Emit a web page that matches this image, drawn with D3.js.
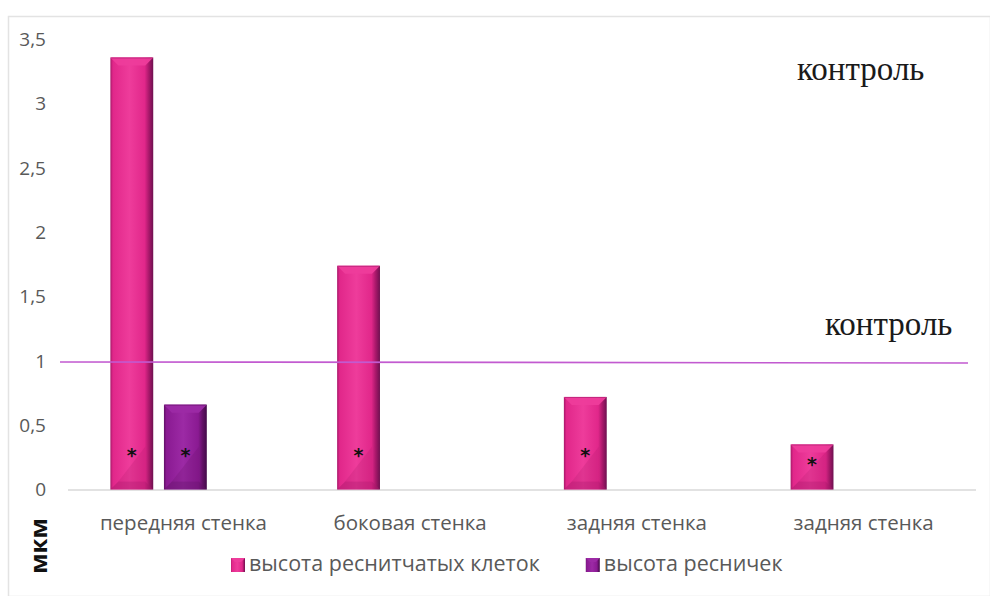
<!DOCTYPE html>
<html>
<head>
<meta charset="utf-8">
<script src="https://cdn.jsdelivr.net/npm/d3@7"></script>
<style>
  html, body { margin: 0; padding: 0; background: #fff; }
  svg { display: block; }
</style>
</head>
<body>
<svg id="chart" width="990" height="596"></svg>
<script>
// Categories and series
const categories = ["передняя стенка", "боковая стенка", "задняя стенка", "задняя стенка "];
const seriesNames = ["высота реснитчатых клеток", "высота ресничек"];
const cellHeight = [3.36, 1.74, 0.72, 0.35];      // высота реснитчатых клеток
const ciliaHeight = [0.66, null, null, null];     // высота ресничек
const significant = [[true, true], [true, false], [true, false], [true, false]];
const yTicks = [0, 0.5, 1, 1.5, 2, 2.5, 3, 3.5];
const controlLevel = 1;
const controlLabel = "контроль";
const unitLabel = "мкм";

const colors = [
  { base: "#e1278a", light: "#ee3c9b", dark: "#a8186a", deep: "#6e1050" },
  { base: "#8a1a92", light: "#9c2aa5", dark: "#621166", deep: "#420a48" }
];

const svg = d3.select("#chart");
const W = 990, H = 596;
const sans = "Open Sans, sans-serif";

// outer frame
svg.append("rect").attr("x", 8.5).attr("y", 16.5).attr("width", W - 8).attr("height", H - 16)
  .attr("fill", "#fff").attr("stroke", "#e3e3e3").attr("stroke-width", 1.5);

const y = d3.scaleLinear().domain([0, 3.5]).range([489.5, 39.5]);
const x = d3.scaleBand().domain(categories).range([72, 979]);
// three slots per category; the series occupy the first two
const slot = d3.scaleBand().domain([0, 1, 2]).range([0, 150]).paddingInner(0.2);
const groupInset = (x.bandwidth() - 150) / 2;

const defs = svg.append("defs");
colors.forEach((c, i) => {
  const g = defs.append("linearGradient").attr("id", "bar" + i).attr("x1", 0).attr("x2", 1).attr("y1", 0).attr("y2", 0);
  g.append("stop").attr("offset", 0).attr("stop-color", c.dark);
  g.append("stop").attr("offset", 0.06).attr("stop-color", c.base);
  g.append("stop").attr("offset", 0.45).attr("stop-color", c.light);
  g.append("stop").attr("offset", 0.8).attr("stop-color", c.base);
  g.append("stop").attr("offset", 0.9).attr("stop-color", c.dark);
  g.append("stop").attr("offset", 1).attr("stop-color", c.deep);
});

// y tick labels
svg.append("g").selectAll("text").data(yTicks).join("text")
  .attr("x", 46).attr("y", d => y(d)).attr("dy", "0.35em")
  .attr("text-anchor", "end")
  .attr("font-family", sans).attr("font-size", 19).attr("fill", "#595959")
  .text(d => d3.format(".1~f")(d).replace(".", ","));

// baseline
svg.append("line").attr("x1", 68).attr("x2", 976).attr("y1", y(0) + 0.5).attr("y2", y(0) + 0.5)
  .attr("stroke", "#d9d9d9").attr("stroke-width", 1.5);

// bars
const bars = [];
categories.forEach((c, ci) => {
  [cellHeight[ci], ciliaHeight[ci]].forEach((v, si) => {
    if (v == null) return;
    bars.push({ c, ci, si, v, sig: significant[ci][si] });
  });
});

const bw = slot.bandwidth();
const bevel = 8;
const gBars = svg.append("g");
bars.forEach(b => {
  const x0 = x(b.c) + groupInset + slot(b.si);
  const y0 = y(b.v), y1 = y(0);
  const c = colors[b.si];
  const g = gBars.append("g");
  g.append("rect").attr("x", x0).attr("y", y0).attr("width", bw).attr("height", y1 - y0)
    .attr("fill", `url(#bar${b.si})`);
  // top bevel
  g.append("path").attr("d", `M${x0},${y0}L${x0 + bw},${y0}L${x0 + bw - bevel},${y0 + bevel}L${x0 + bevel},${y0 + bevel}Z`)
    .attr("fill", c.light).attr("opacity", 0.95);
  g.append("line").attr("x1", x0 + 1).attr("x2", x0 + bw - 1).attr("y1", y0 + 0.5).attr("y2", y0 + 0.5)
    .attr("stroke", c.dark).attr("stroke-width", 1).attr("opacity", 0.6);
  // bottom bevel
  g.append("path").attr("d", `M${x0},${y1}L${x0 + bw},${y1}L${x0 + bw - bevel},${y1 - bevel}L${x0 + bevel},${y1 - bevel}Z`)
    .attr("fill", c.dark).attr("opacity", 0.45);
  // lower diagonal shading
  const hh = Math.min(bw, (y1 - y0) - bevel);
  g.append("path").attr("d", `M${x0 + bevel},${y1 - bevel}L${x0 + bw - bevel},${y1 - bevel}L${x0 + bw - bevel},${y1 - hh}Z`)
    .attr("fill", c.dark).attr("opacity", 0.2);
  if (b.sig) {
    const ay = y(Math.min(0.28, b.v * 0.6));
    g.append("text").attr("x", x0 + bw / 2).attr("y", ay).attr("dy", "0.45em")
      .attr("text-anchor", "middle").attr("font-family", "DejaVu Sans, sans-serif")
      .attr("font-size", 19).attr("font-weight", "bold").attr("fill", "#111").text("*");
  }
});

// control line
svg.append("line").attr("x1", 60).attr("x2", 968).attr("y1", y(controlLevel) + 1).attr("y2", y(controlLevel) + 2)
  .attr("stroke", "#c25ad0").attr("stroke-width", 1.6);

// control captions
const serif = "Liberation Serif, DejaVu Serif, serif";
svg.append("text").attr("x", 797).attr("y", 80).attr("font-family", serif).attr("font-size", 33)
  .attr("fill", "#1a1a1a").text(controlLabel);
svg.append("text").attr("x", 825).attr("y", 335).attr("font-family", serif).attr("font-size", 33)
  .attr("fill", "#1a1a1a").text(controlLabel);

// x labels
svg.append("g").selectAll("text").data(categories).join("text")
  .attr("x", d => x(d) + x.bandwidth() / 2 - 2).attr("y", 530)
  .attr("text-anchor", "middle")
  .attr("font-family", sans).attr("font-size", 20.5).attr("fill", "#595959")
  .text(d => d.trim());

// unit label
svg.append("text").attr("transform", "translate(47,546) rotate(-90)")
  .attr("text-anchor", "middle").attr("font-family", sans)
  .attr("font-size", 24).attr("font-weight", "bold").attr("fill", "#111").text(unitLabel);

// legend, laid out left to right
const legend = svg.append("g");
let lx = 231;
seriesNames.forEach((n, i) => {
  const c = colors[i];
  legend.append("rect").attr("x", lx).attr("y", 558).attr("width", 14).attr("height", 14)
    .attr("fill", `url(#bar${i})`);
  legend.append("path").attr("d", `M${lx},558l14,0l-4,4l-6,0z`).attr("fill", c.light);
  const t = legend.append("text").attr("x", lx + 18).attr("y", 571)
    .attr("font-family", sans).attr("font-size", 21.5).attr("fill", "#595959").text(n);
  lx += 18 + t.node().getComputedTextLength() + 46;
});
</script>
</body>
</html>
